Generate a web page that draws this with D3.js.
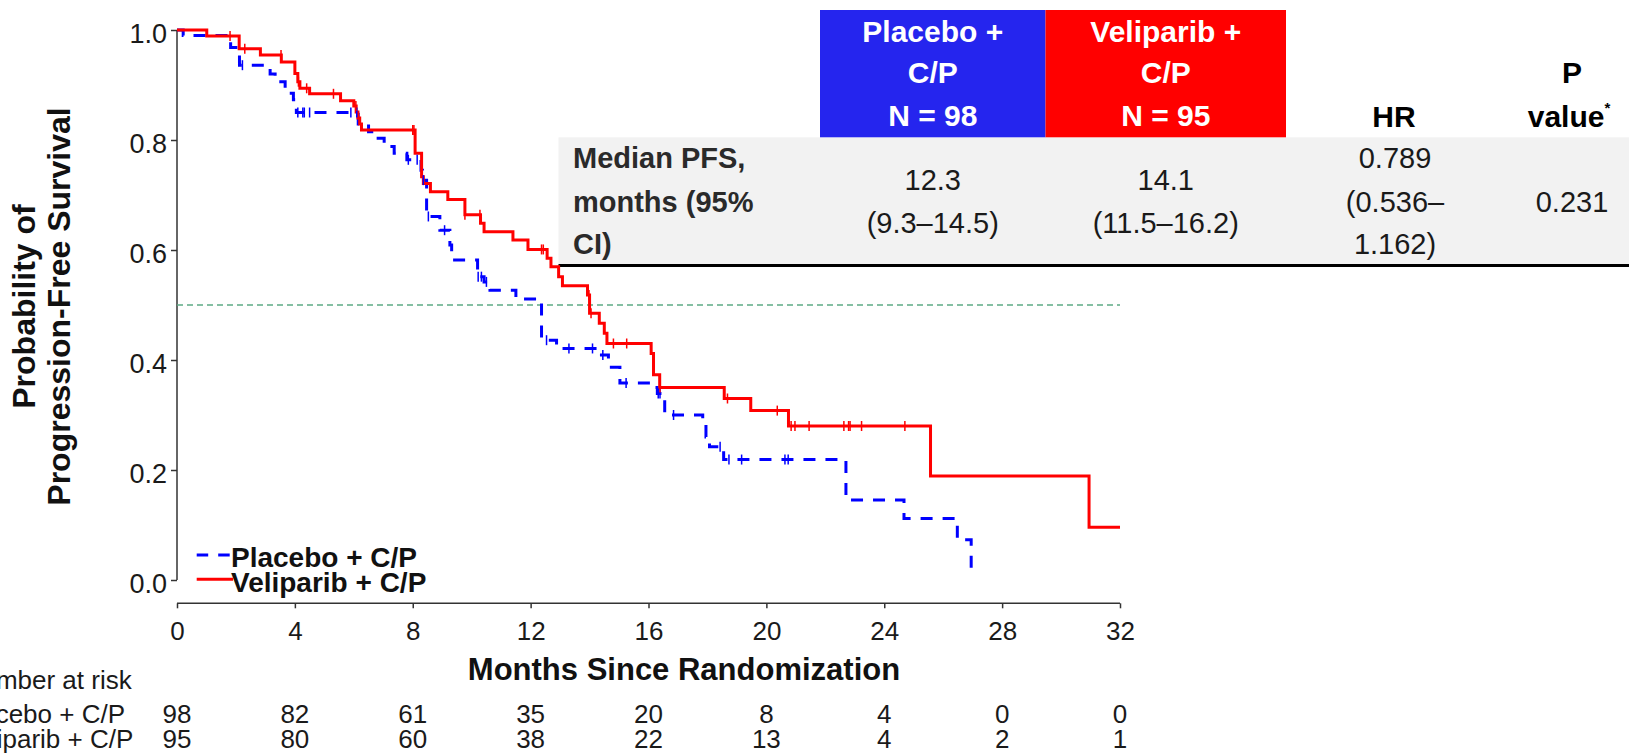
<!DOCTYPE html>
<html>
<head>
<meta charset="utf-8">
<script src="https://cdn.jsdelivr.net/npm/d3@7"></script>
<style>
  html, body { margin: 0; padding: 0; background: #fff; overflow: hidden; }
  svg { display: block; font-family: "Liberation Sans", Arial, Helvetica, sans-serif; }
</style>
</head>
<body>
<svg id="chart" width="1629" height="754"></svg>
<script>
// Kaplan–Meier step data: event times (months) and survival after each step
const placeboTimes = [0, 0.21, 1.82, 2.12, 3.16, 3.33, 3.67, 3.95, 4.05, 6.15, 6.5, 6.66, 7.03, 7.37, 7.8, 8.28, 8.33, 8.47, 8.92, 9.26, 9.32, 10.2, 10.42, 10.62, 11.5, 12.37, 12.88, 14.24, 14.64, 15.03, 16.12, 16.3, 16.55, 17.84, 17.95, 18.07, 18.55, 22.7, 24.67, 26.48, 26.95];
const placeboSurv  = [1.0, 0.99, 0.968, 0.936, 0.92, 0.906, 0.885, 0.873, 0.85, 0.829, 0.815, 0.803, 0.788, 0.776, 0.764, 0.745, 0.727, 0.661, 0.636, 0.609, 0.582, 0.5515, 0.542, 0.527, 0.511, 0.436, 0.421, 0.409, 0.387, 0.358, 0.35, 0.339, 0.30, 0.279, 0.26, 0.2424, 0.219, 0.1455, 0.112, 0.073, 0.012];
const placeboCensor = [2.22, 4.1, 4.27, 4.32, 4.5, 5.9, 6.1, 7.85, 8.15, 8.36, 8.53, 9.08, 10.22, 10.33, 10.5, 12.54, 13.3, 14.1, 14.45, 15.24, 16.33, 16.39, 16.85, 18.43, 18.73, 19.16, 20.63, 20.74];
const placeboEnd = 26.95;

const veliTimes = [0, 1.01, 2.11, 2.83, 3.54, 4.0, 4.1, 4.17, 4.5, 5.55, 6.0, 6.08, 6.14, 6.2, 6.26, 8.08, 8.3, 8.36, 8.6, 9.19, 9.77, 10.3, 10.42, 11.4, 11.91, 12.56, 12.69, 12.95, 13.08, 13.93, 14.0, 14.33, 14.5, 14.59, 16.09, 16.17, 16.38, 18.57, 19.47, 20.75, 25.57, 30.95];
const veliSurv  = [1.0, 0.989, 0.966, 0.9545, 0.942, 0.921, 0.906, 0.894, 0.884, 0.8715, 0.862, 0.851, 0.84, 0.829, 0.818, 0.776, 0.733, 0.721, 0.706, 0.692, 0.664, 0.6485, 0.633, 0.618, 0.601, 0.585, 0.5697, 0.5515, 0.535, 0.518, 0.485, 0.467, 0.4485, 0.43, 0.412, 0.373, 0.35, 0.33, 0.308, 0.28, 0.189, 0.0958];
const veliCensor = [1.8, 2.3, 3.53, 4.12, 4.4, 5.31, 6.07, 8.0, 8.04, 9.77, 10.28, 12.37, 12.43, 13.98, 14.05, 14.81, 15.26, 16.39, 18.68, 20.37, 20.84, 20.97, 21.45, 22.63, 22.79, 22.84, 23.23, 24.7];
const veliEnd = 32;

// Axis ticks
const xTicks = [0, 4, 8, 12, 16, 20, 24, 28, 32];
const yTicks = [0.0, 0.2, 0.4, 0.6, 0.8, 1.0];

// Number at risk at each x tick
const riskTitle = "Number at risk";
const riskLabels = ["Placebo + C/P", "Veliparib + C/P"];
const placeboRisk = [98, 82, 61, 35, 20, 8, 4, 0, 0];
const veliRisk = [95, 80, 60, 38, 22, 13, 4, 2, 1];

// Summary table
const armHeaders = [["Placebo +", "C/P", "N = 98"], ["Veliparib +", "C/P", "N = 95"]];
const rowLabel = ["Median PFS,", "months (95%", "CI)"];
const medianCells = [["12.3", "(9.3–14.5)"], ["14.1", "(11.5–16.2)"]];
const hrCell = ["0.789", "(0.536–", "1.162)"];
const pCell = "0.231";

const BLUE = "#0000ff";
const RED = "#ff0000";

const svg = d3.select("#chart");

const x = d3.scaleLinear().domain([0, 32]).range([177, 1120]);
const y = d3.scaleLinear().domain([0, 1]).range([580, 30]);

const axisColor = "#333";

// ---- table (drawn first so curves sit on top) ----
const colX = [820, 1045.5, 1286];
const tableG = svg.append("g");
tableG.append("rect").attr("x", 558.5).attr("y", 137.3).attr("width", 1629 - 558.5).attr("height", 265 - 137.3).attr("fill", "#f2f2f2");
tableG.append("rect").attr("x", colX[0]).attr("y", 10).attr("width", colX[1] - colX[0]).attr("height", 127.3).attr("fill", "#2525ee");
tableG.append("rect").attr("x", colX[1]).attr("y", 10).attr("width", colX[2] - colX[1]).attr("height", 127.3).attr("fill", RED);
tableG.append("line").attr("x1", 558.5).attr("x2", 1629).attr("y1", 265.5).attr("y2", 265.5).attr("stroke", "#000").attr("stroke-width", 3);

const headBase = [41.7, 83.3, 126];
armHeaders.forEach((lines, i) => {
  const cx = (colX[i] + colX[i + 1]) / 2;
  lines.forEach((t, j) => {
    tableG.append("text").attr("x", cx).attr("y", headBase[j]).attr("text-anchor", "middle")
      .attr("font-size", 30).attr("font-weight", "bold").attr("fill", "#fff").text(t);
  });
});
tableG.append("text").attr("x", 1394).attr("y", 126.7).attr("text-anchor", "middle")
  .attr("font-size", 30).attr("font-weight", "bold").attr("fill", "#000").text("HR");
tableG.append("text").attr("x", 1572).attr("y", 83.3).attr("text-anchor", "middle")
  .attr("font-size", 30).attr("font-weight", "bold").attr("fill", "#000").text("P");
const pv = tableG.append("text").attr("x", 1569).attr("y", 126.7).attr("text-anchor", "middle")
  .attr("font-size", 30).attr("font-weight", "bold").attr("fill", "#000");
pv.append("tspan").text("value");
pv.append("tspan").attr("font-size", 15).attr("dy", -14).text("*");

const rowBase = [168.3, 211.7, 254];
rowLabel.forEach((t, j) => {
  tableG.append("text").attr("x", 573).attr("y", rowBase[j]).attr("font-size", 29)
    .attr("font-weight", "bold").attr("fill", "#2a2a2a").text(t);
});
medianCells.forEach((lines, i) => {
  const cx = (colX[i] + colX[i + 1]) / 2;
  lines.forEach((t, j) => {
    tableG.append("text").attr("x", cx).attr("y", [190, 233.3][j]).attr("text-anchor", "middle")
      .attr("font-size", 29).attr("fill", "#1a1a1a").text(t);
  });
});
hrCell.forEach((t, j) => {
  tableG.append("text").attr("x", 1395).attr("y", rowBase[j]).attr("text-anchor", "middle")
    .attr("font-size", 29).attr("fill", "#1a1a1a").text(t);
});
tableG.append("text").attr("x", 1572).attr("y", 211.7).attr("text-anchor", "middle")
  .attr("font-size", 29).attr("fill", "#1a1a1a").text(pCell);

// ---- axes ----
const yAxis = d3.axisLeft(y).tickValues(yTicks).tickFormat(d3.format(".1f")).tickSize(6).tickPadding(4);
const gy = svg.append("g").attr("transform", "translate(177,0)").call(yAxis);
gy.select(".domain").attr("stroke", axisColor).attr("stroke-width", 1.5).attr("d", `M0,${y(1)}V${y(0)}`);
gy.selectAll(".tick line").attr("stroke", axisColor).attr("stroke-width", 1.5);
gy.selectAll(".tick text").attr("font-size", 27).attr("fill", "#1a1a1a")
  .attr("font-family", "Liberation Sans, Arial, sans-serif").attr("dy", "0.48em");

const xAxis = d3.axisBottom(x).tickValues(xTicks).tickFormat(d3.format("d")).tickSize(5).tickPadding(13);
const gx = svg.append("g").attr("transform", "translate(0,603.3)").call(xAxis);
gx.select(".domain").attr("stroke", axisColor).attr("stroke-width", 1.5).attr("d", `M${x(0)},0H${x(32)}`);
gx.selectAll(".tick line").attr("stroke", axisColor).attr("stroke-width", 1.5);
gx.selectAll(".tick text").attr("font-size", 26).attr("fill", "#1a1a1a")
  .attr("font-family", "Liberation Sans, Arial, sans-serif");

// axis titles
svg.append("text").attr("transform", "translate(35,306.5) rotate(-90)").attr("text-anchor", "middle")
  .attr("font-size", 32).attr("font-weight", "bold").attr("fill", "#111").text("Probability of");
svg.append("text").attr("transform", "translate(70,306.5) rotate(-90)").attr("text-anchor", "middle")
  .attr("font-size", 32).attr("font-weight", "bold").attr("fill", "#111").text("Progression-Free Survival");
svg.append("text").attr("x", 684).attr("y", 680).attr("text-anchor", "middle")
  .attr("font-size", 31).attr("font-weight", "bold").attr("fill", "#111").text("Months Since Randomization");

// median reference line
svg.append("line").attr("x1", x(0)).attr("x2", x(32)).attr("y1", y(0.5)).attr("y2", y(0.5))
  .attr("stroke", "#5dab85").attr("stroke-width", 1.5).attr("stroke-dasharray", "6,4");

// ---- survival curves ----
function stepPoints(times, surv, end) {
  const pts = times.map((t, i) => [t, surv[i]]);
  if (end > times[times.length - 1]) pts.push([end, surv[surv.length - 1]]);
  return pts;
}
function survAt(times, surv, t) {
  let v = surv[0];
  for (let i = 0; i < times.length; i++) { if (times[i] <= t) v = surv[i]; }
  return v;
}
const line = d3.line().x(d => x(d[0])).y(d => y(d[1])).curve(d3.curveStepAfter);

svg.append("path").datum(stepPoints(placeboTimes, placeboSurv, placeboEnd))
  .attr("d", line).attr("fill", "none").attr("stroke", BLUE).attr("stroke-width", 3)
  .attr("stroke-dasharray", "12,10");
svg.append("path").datum(stepPoints(veliTimes, veliSurv, veliEnd))
  .attr("d", line).attr("fill", "none").attr("stroke", RED).attr("stroke-width", 3);

function censorMarks(times, surv, cens, color) {
  svg.append("g").selectAll("line").data(cens).join("line")
    .attr("x1", d => x(d)).attr("x2", d => x(d))
    .attr("y1", d => y(survAt(times, surv, d)) - 5)
    .attr("y2", d => y(survAt(times, surv, d)) + 5)
    .attr("stroke", color).attr("stroke-width", 1.5);
}
censorMarks(placeboTimes, placeboSurv, placeboCensor, BLUE);
censorMarks(veliTimes, veliSurv, veliCensor, RED);

// ---- legend ----
const leg = svg.append("g");
leg.append("line").attr("x1", 196.7).attr("x2", 230).attr("y1", 555).attr("y2", 555)
  .attr("stroke", BLUE).attr("stroke-width", 3).attr("stroke-dasharray", "11.5,10");
leg.append("line").attr("x1", 196.7).attr("x2", 233).attr("y1", 579.3).attr("y2", 579.3)
  .attr("stroke", RED).attr("stroke-width", 3);
leg.append("text").attr("x", 231).attr("y", 566.7).attr("font-size", 28).attr("font-weight", "bold")
  .attr("fill", "#111").text("Placebo + C/P");
leg.append("text").attr("x", 231).attr("y", 591.7).attr("font-size", 28).attr("font-weight", "bold")
  .attr("fill", "#111").text("Veliparib + C/P");

// ---- number at risk (labels run off the left edge of the page) ----
const riskG = svg.append("g").attr("font-size", 26).attr("fill", "#1a1a1a");
riskG.append("text").attr("x", 131.7).attr("y", 689).attr("text-anchor", "end").text(riskTitle);
[placeboRisk, veliRisk].forEach((row, i) => {
  const by = [722.7, 748][i];
  riskG.append("text").attr("x", [125, 133.3][i]).attr("y", by).attr("text-anchor", "end").text(riskLabels[i]);
  riskG.selectAll(null).data(row).join("text")
    .attr("x", (d, k) => x(xTicks[k])).attr("y", by).attr("text-anchor", "middle").text(d => d);
});
</script>
</body>
</html>
